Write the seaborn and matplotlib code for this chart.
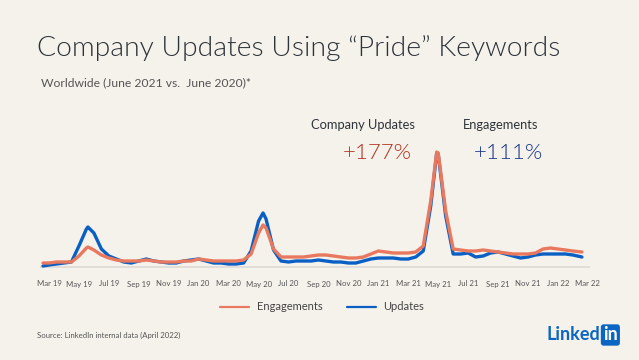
import numpy as np
import pandas as pd
import matplotlib
matplotlib.use("Agg")
import matplotlib.pyplot as plt
import seaborn as sns
from matplotlib.lines import Line2D

# months since Mar 2019 (half-month steps, plus peak points)
months = [-0.4, 0, 0.5, 1, 1.5, 2, 2.5, 2.6, 3, 3.5, 4, 4.5, 5, 5.5, 6, 6.5, 7, 7.5,
          8, 8.5, 9, 9.5, 10, 10.5, 11, 11.5, 12, 12.5, 13, 13.5, 14, 14.3, 14.5, 15,
          15.5, 16, 16.5, 17, 17.5, 18, 18.5, 19, 19.5, 20, 20.5, 21, 21.5, 22, 22.5,
          23, 23.5, 24, 24.5, 25, 25.5, 25.9, 26, 26.5, 27, 27.5, 28, 28.5, 29, 29.5,
          30, 30.5, 31, 31.5, 32, 32.5, 33, 33.5, 34, 34.5, 35, 35.6]

updates = [0, 1, 2, 3, 4, 20, 37, 39, 33, 17, 10, 7, 4, 3, 5, 7, 5, 4,
           3, 3, 5, 6, 7, 5, 3, 3, 2, 2, 3, 15, 45, 53, 47, 16,
           5, 4, 5, 5, 5, 6, 5, 4, 4, 3, 3, 5, 7, 8, 8,
           8, 7, 7, 9, 15, 60, 113, 112, 50, 12, 12, 13, 9, 10, 13,
           14, 12, 10, 8, 9, 11, 12, 12, 12, 12, 11, 9]

engagements = [3, 3, 4, 4, 4, 10, 18, 19, 16, 11, 8, 6, 5, 5, 5, 6, 5, 4,
               4, 4, 5, 5, 7, 6, 5, 5, 5, 5, 6, 12, 33, 41, 38, 17,
               9, 9, 9, 9, 10, 11, 11, 10, 9, 8, 8, 9, 12, 15, 14,
               13, 13, 13, 14, 20, 65, 114, 113, 55, 17, 16, 15, 15, 16, 15,
               14, 13, 12, 12, 12, 13, 17, 18, 17, 16, 15, 14]

tick_labels = ["Mar 19", "May 19", "Jul 19", "Sep 19", "Nov 19", "Jan 20", "Mar 20",
               "May 20", "Jul 20", "Sep 20", "Nov 20", "Jan 21", "Mar 21", "May 21",
               "Jul 21", "Sep 21", "Nov 21", "Jan 22", "Mar 22"]

df = pd.DataFrame({
    "month": months * 2,
    "value": updates + engagements,
    "series": ["Updates"] * len(months) + ["Engagements"] * len(months),
})

bg = "#f5f2ec"
blue = "#0a5fc4"
orange = "#e8795e"
dark = "#2d3339"

sns.set_style("white")
plt.rcParams["font.family"] = ["Lato", "DejaVu Sans"]

fig = plt.figure(figsize=(6.39, 3.60), dpi=100, facecolor=bg)
ax = fig.add_axes([40 / 639, (360 - 268) / 360, 550 / 639, 132 / 360])
ax.set_facecolor(bg)

ax.axhline(-0.8, color="#dedbd6", lw=1.2, zorder=0)
sns.lineplot(data=df, x="month", y="value", hue="series",
             hue_order=["Updates", "Engagements"],
             palette={"Updates": blue, "Engagements": orange},
             lw=2.4, ax=ax, legend=False)

ax.set_xlim(-0.6, 36.14)
ax.set_ylim(-2, 130)
ax.set_xticks(np.arange(0, 37, 2))
ax.set_xticklabels(tick_labels, fontsize=5.6, color="#555555")
ax.tick_params(axis="x", length=0, pad=9)
ax.set_yticks([])
ax.set_xlabel("")
ax.set_ylabel("")
sns.despine(ax=ax, left=True, bottom=True)

# legend
handles = [Line2D([], [], color=orange, lw=1.6), Line2D([], [], color=blue, lw=1.6)]
fig.legend(handles, ["Engagements", "Updates"], loc="center", ncol=2,
           bbox_to_anchor=(322 / 639, 1 - 307 / 360), frameon=False,
           fontsize=8, labelcolor="#444444", handlelength=2.6,
           columnspacing=2.2, handletextpad=0.7)

# titles
fig.text(37 / 639, 1 - 48 / 360, "Company Updates Using \u201cPride\u201d Keywords",
         fontsize=20.3, color=dark, va="center", weight=300)
fig.text(41 / 639, 1 - 83 / 360, "Worldwide (June 2021 vs.  June 2020)*",
         fontsize=8.7, color="#555555", va="center")

# callouts
fig.text(311 / 639, 1 - 125 / 360, "Company Updates", fontsize=9.3,
         color=dark, va="center")
fig.text(412 / 639, 1 - 153 / 360, "+177%", fontsize=16, color="#b0301a",
         va="center", ha="right", weight=300)
fig.text(463 / 639, 1 - 125 / 360, "Engagements", fontsize=9.3,
         color=dark, va="center")
fig.text(543 / 639, 1 - 153 / 360, "+111%", fontsize=16, color="#17368a",
         va="center", ha="right", weight=300)

# footer
fig.text(37 / 639, 1 - 335 / 360, "Source: LinkedIn internal data (April 2022)",
         fontsize=5.6, color="#555555", va="center")
fig.text(600 / 639, 1 - 335 / 360, "Linked", fontsize=13, color="#0a66c2",
         va="center", ha="right", weight="bold")
fig.text(603 / 639, 1 - 335 / 360, "in", fontsize=13, color="white",
         va="center", ha="left", weight="bold",
         bbox=dict(boxstyle="round,pad=0.12,rounding_size=0.15",
                   fc="#0a66c2", ec="none"))

fig.savefig("out.png", dpi=100, facecolor=bg)
